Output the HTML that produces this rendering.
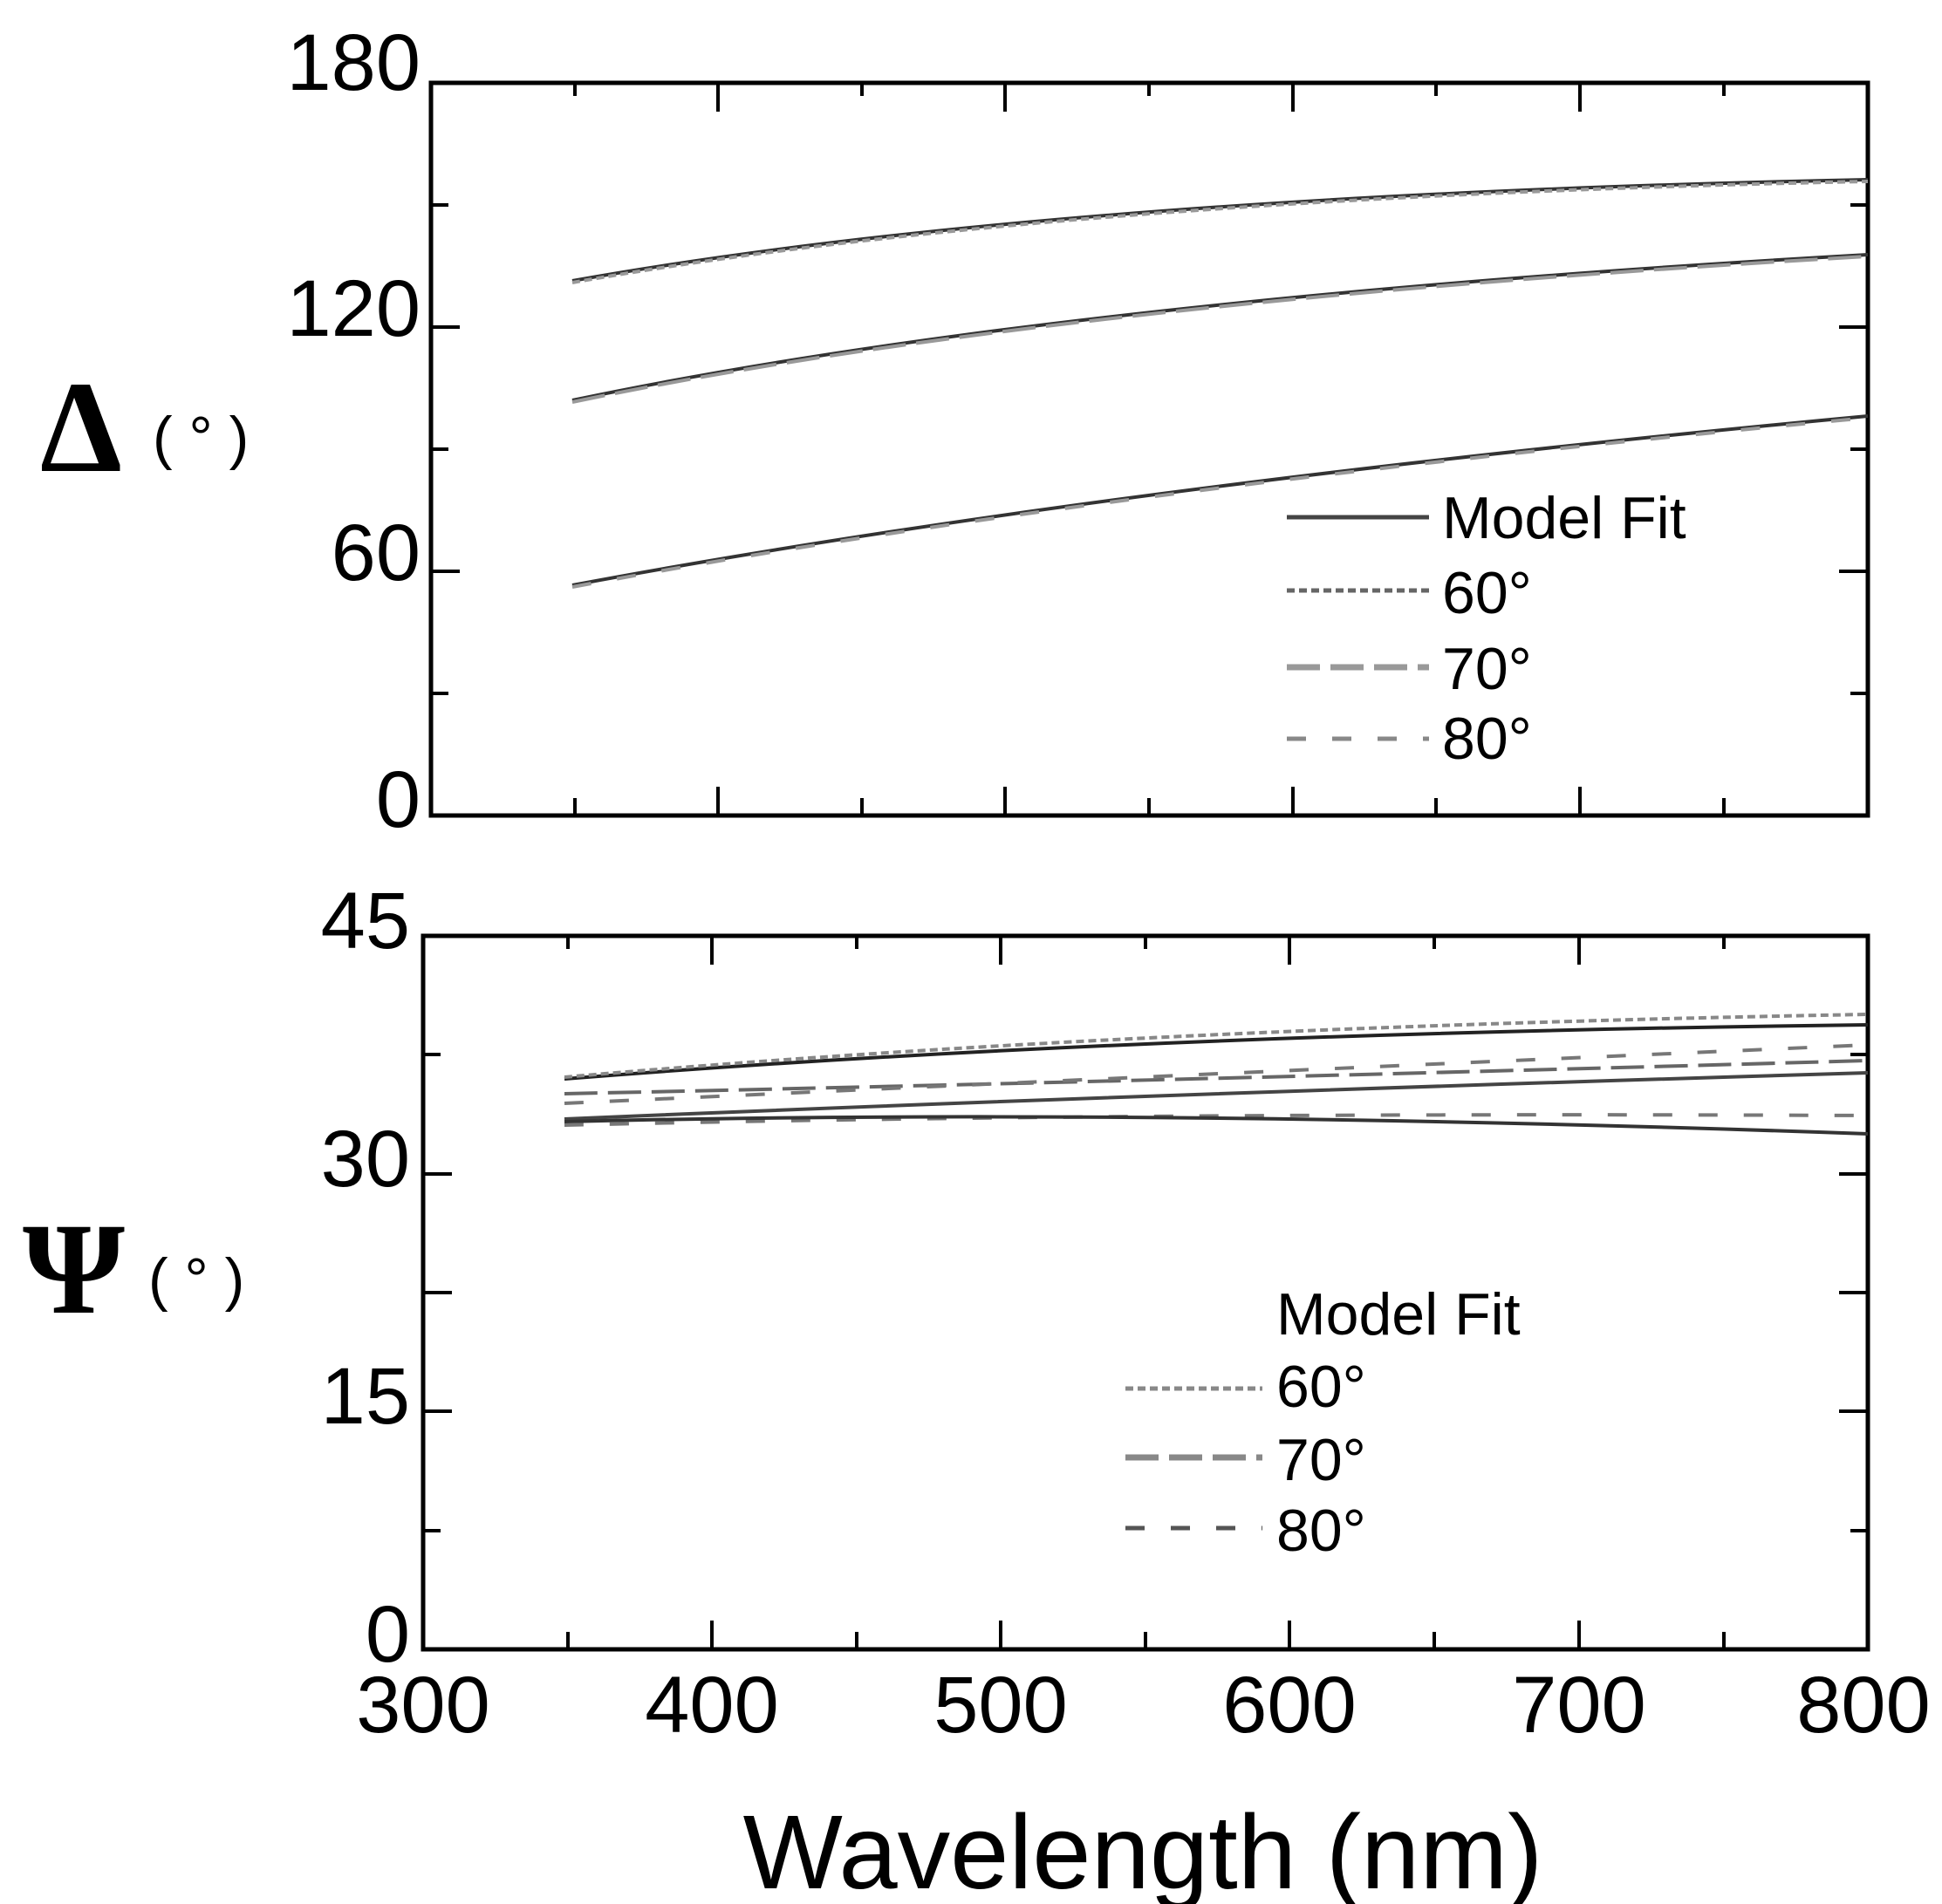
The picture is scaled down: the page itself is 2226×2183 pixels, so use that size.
<!DOCTYPE html>
<html><head><meta charset="utf-8"><style>html,body{margin:0;padding:0;background:#fff}svg{display:block}</style></head>
<body>
<svg width="2226" height="2183" viewBox="0 0 2226 2183" xmlns="http://www.w3.org/2000/svg" font-family="Liberation Sans, sans-serif">
<rect width="2226" height="2183" fill="#fff"/>
<!-- Top panel -->
<rect x="494" y="95" width="1647" height="840" fill="none" stroke="#000" stroke-width="5"/>
<g stroke="#000" stroke-width="4">
<line x1="494" y1="375" x2="527" y2="375"/><line x1="494" y1="655" x2="527" y2="655"/>
<line x1="494" y1="235" x2="514" y2="235"/><line x1="494" y1="515" x2="514" y2="515"/><line x1="494" y1="795" x2="514" y2="795"/>
<line x1="2141" y1="375" x2="2108" y2="375"/><line x1="2141" y1="655" x2="2108" y2="655"/>
<line x1="2141" y1="235" x2="2121" y2="235"/><line x1="2141" y1="515" x2="2121" y2="515"/><line x1="2141" y1="795" x2="2121" y2="795"/>
<line x1="823" y1="935" x2="823" y2="902"/><line x1="1152" y1="935" x2="1152" y2="902"/><line x1="1482" y1="935" x2="1482" y2="902"/><line x1="1811" y1="935" x2="1811" y2="902"/>
<line x1="659" y1="935" x2="659" y2="915"/><line x1="988" y1="935" x2="988" y2="915"/><line x1="1317" y1="935" x2="1317" y2="915"/><line x1="1646" y1="935" x2="1646" y2="915"/><line x1="1976" y1="935" x2="1976" y2="915"/>
<line x1="823" y1="95" x2="823" y2="128"/><line x1="1152" y1="95" x2="1152" y2="128"/><line x1="1482" y1="95" x2="1482" y2="128"/><line x1="1811" y1="95" x2="1811" y2="128"/>
<line x1="659" y1="95" x2="659" y2="110"/><line x1="988" y1="95" x2="988" y2="110"/><line x1="1317" y1="95" x2="1317" y2="110"/><line x1="1646" y1="95" x2="1646" y2="110"/><line x1="1976" y1="95" x2="1976" y2="110"/>
</g>
<g font-size="92" text-anchor="end" fill="#000">
<text x="482" y="103">180</text><text x="482" y="385">120</text><text x="482" y="665">60</text><text x="482" y="948">0</text>
</g>
<g fill="none" stroke-width="4">
<path d="M656,322 Q1200,225 2141,206" stroke="#333"/>
<path d="M656,324 Q1200,227 2141,208" stroke="#999" stroke-dasharray="9,5"/>
<path d="M656,459 Q1200,345 2141,292" stroke="#333"/>
<path d="M656,461 Q1200,347 2141,294" stroke="#999" stroke-dasharray="38,12"/>
<path d="M656,671 Q1250,560 2141,477" stroke="#333"/>
<path d="M656,673 Q1250,562 2141,479" stroke="#999" stroke-dasharray="22,30"/>
</g>
<g stroke-width="5" fill="none">
<line x1="1475" y1="593" x2="1638" y2="593" stroke="#444"/>
<line x1="1475" y1="677" x2="1638" y2="677" stroke="#666" stroke-dasharray="9,5"/>
<line x1="1475" y1="765" x2="1638" y2="765" stroke="#999" stroke-width="7" stroke-dasharray="38,12"/>
<line x1="1475" y1="847" x2="1638" y2="847" stroke="#888" stroke-dasharray="22,30"/>
</g>
<g font-size="68" fill="#000">
<text x="1653" y="617">Model  Fit</text>
<text x="1653" y="703">60°</text><text x="1653" y="790">70°</text><text x="1653" y="870">80°</text>
</g>
<text x="46" y="540" font-family="Liberation Serif, serif" font-size="150" font-weight="bold">Δ</text>
<text x="175" y="525" font-size="68">( ° )</text>

<!-- Bottom panel -->
<rect x="485" y="1073" width="1656" height="818" fill="none" stroke="#000" stroke-width="5"/>
<g stroke="#000" stroke-width="4">
<line x1="485" y1="1482" x2="518" y2="1482"/><line x1="485" y1="1618" x2="518" y2="1618"/><line x1="485" y1="1346" x2="518" y2="1346"/>
<line x1="485" y1="1209" x2="505" y2="1209"/><line x1="485" y1="1755" x2="505" y2="1755"/>
<line x1="2141" y1="1482" x2="2108" y2="1482"/><line x1="2141" y1="1618" x2="2108" y2="1618"/><line x1="2141" y1="1346" x2="2108" y2="1346"/>
<line x1="2141" y1="1209" x2="2121" y2="1209"/><line x1="2141" y1="1755" x2="2121" y2="1755"/>
<line x1="816" y1="1891" x2="816" y2="1858"/><line x1="1147" y1="1891" x2="1147" y2="1858"/><line x1="1478" y1="1891" x2="1478" y2="1858"/><line x1="1810" y1="1891" x2="1810" y2="1858"/>
<line x1="651" y1="1891" x2="651" y2="1871"/><line x1="982" y1="1891" x2="982" y2="1871"/><line x1="1313" y1="1891" x2="1313" y2="1871"/><line x1="1644" y1="1891" x2="1644" y2="1871"/><line x1="1976" y1="1891" x2="1976" y2="1871"/>
<line x1="816" y1="1073" x2="816" y2="1106"/><line x1="1147" y1="1073" x2="1147" y2="1106"/><line x1="1478" y1="1073" x2="1478" y2="1106"/><line x1="1810" y1="1073" x2="1810" y2="1106"/>
<line x1="651" y1="1073" x2="651" y2="1088"/><line x1="982" y1="1073" x2="982" y2="1088"/><line x1="1313" y1="1073" x2="1313" y2="1088"/><line x1="1644" y1="1073" x2="1644" y2="1088"/><line x1="1976" y1="1073" x2="1976" y2="1088"/>
</g>
<g font-size="92" text-anchor="end" fill="#000">
<text x="470" y="1087">45</text><text x="470" y="1360">30</text><text x="470" y="1632">15</text><text x="470" y="1905">0</text>
</g>
<g font-size="92" text-anchor="middle" fill="#000">
<text x="485" y="1986">300</text><text x="816" y="1986">400</text><text x="1147" y="1986">500</text><text x="1478" y="1986">600</text><text x="1810" y="1986">700</text><text x="2136" y="1986">800</text>
</g>
<text x="1310" y="2165" font-size="121" text-anchor="middle" fill="#000">Wavelength (nm)</text>
<g fill="none" stroke-width="4">
<path d="M647,1237 Q1300,1185 2141,1175" stroke="#222"/>
<path d="M647,1235 Q1300,1178 2141,1163" stroke="#888" stroke-dasharray="9,5"/>
<path d="M647,1254 Q1300,1240 2141,1216" stroke="#666" stroke-dasharray="38,12"/>
<path d="M647,1265 Q1300,1235 2141,1198" stroke="#777" stroke-dasharray="22,30"/>
<path d="M647,1283 Q1300,1255 2141,1230" stroke="#444"/>
<path d="M647,1290 Q1300,1275 2141,1279" stroke="#777" stroke-dasharray="22,30"/>
<path d="M647,1286 Q1300,1270 2141,1300" stroke="#333"/>
</g>
<g stroke-width="5" fill="none">
<line x1="1290" y1="1592" x2="1447" y2="1592" stroke="#888" stroke-dasharray="9,5"/>
<line x1="1290" y1="1671" x2="1447" y2="1671" stroke="#888" stroke-width="7" stroke-dasharray="38,12"/>
<line x1="1290" y1="1752" x2="1447" y2="1752" stroke="#555" stroke-dasharray="22,30"/>
</g>
<g font-size="68" fill="#000">
<text x="1463" y="1530">Model  Fit</text>
<text x="1463" y="1613">60°</text><text x="1463" y="1697">70°</text><text x="1463" y="1778">80°</text>
</g>
<text x="26" y="1505" font-family="Liberation Serif, serif" font-size="150" font-weight="bold">Ψ</text>
<text x="170" y="1490" font-size="68">( ° )</text>
</svg>
</body></html>
